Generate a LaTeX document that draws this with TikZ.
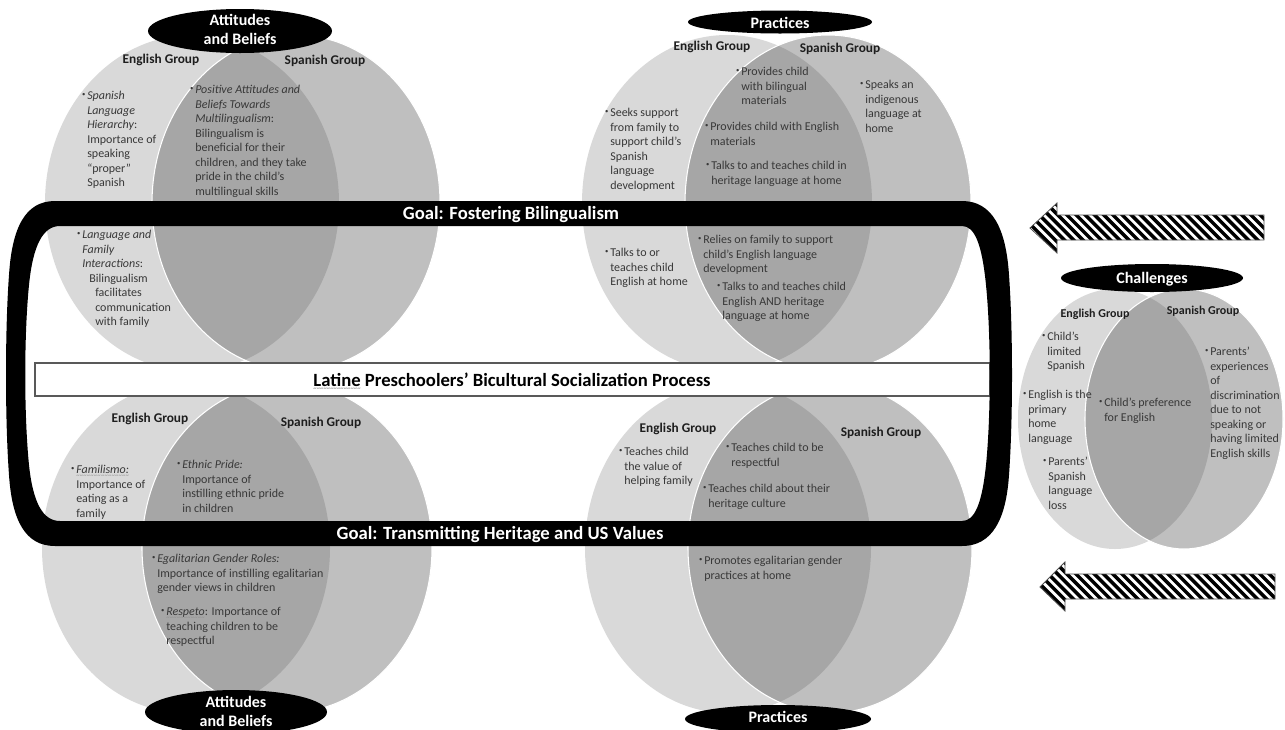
\documentclass[tikz,border=0pt]{standalone}
\usepackage{fontspec}
\setmainfont{Carlito}
\usetikzlibrary{shapes.geometric}
\definecolor{lgr}{HTML}{D9D9D9}
\definecolor{mgr}{HTML}{BFBFBF}
\definecolor{dgr}{HTML}{A6A6A6}
\definecolor{txt}{HTML}{383838}
\definecolor{hdr}{HTML}{1E1E1E}
\newsavebox{\wavebox}
\newcommand\gwave[1]{\sbox{\wavebox}{#1}\rlap{\usebox{\wavebox}}\rlap{\raisebox{-3pt}{\color{black!45}\hbox to \wd\wavebox{\xleaders\hbox{\fontsize{5}{5}\selectfont\char"007E}\hfill}}}\hskip\wd\wavebox\relax}
\newcommand{\bul}{\llap{\raisebox{0.45ex}{\fontsize{5}{5}\selectfont\textbullet}\hspace{1.4pt}}}
\newcommand{\lns}[1]{\begin{tabular}[t]{@{}l@{}}#1\end{tabular}}
\newcommand{\clns}[1]{\begin{tabular}[t]{@{}c@{}}#1\end{tabular}}
% #1 cx1, #2 cx2, #3 cy, #4 rx1, #5 rx2, #6 ry
\newcommand{\vennpair}[6]{%
  \fill[lgr] (#1,#3) ellipse [x radius=#4, y radius=#6];
  \fill[mgr] (#2,#3) ellipse [x radius=#5, y radius=#6];
  \begin{scope}
    \clip (#1,#3) ellipse [x radius=#4, y radius=#6];
    \fill[dgr] (#2,#3) ellipse [x radius=#5, y radius=#6];
  \end{scope}
  \draw[white, line width=0.8pt] (#2,#3) ellipse [x radius=#5, y radius=#6];
}
\tikzset{
  body/.style={anchor=base west, inner sep=0pt, text=txt,
    font=\fontsize{9}{10.9}\selectfont},
  grp/.style={anchor=base, inner sep=0pt, text=hdr,
    font=\bfseries\fontsize{10}{12}\selectfont},
  sgrp/.style={anchor=base, inner sep=0pt, text=hdr,
    font=\bfseries\fontsize{9}{11}\selectfont},
  lbltext/.style={anchor=base, inner sep=0pt, text=white,
    font=\bfseries\fontsize{12}{14.25}\selectfont},
  goaltext/.style={anchor=base, inner sep=0pt, text=white,
    font=\bfseries\fontsize{14}{16}\selectfont},
  titletext/.style={anchor=base, inner sep=0pt, text=black,
    font=\bfseries\fontsize{14}{16}\selectfont},
  stripe/.style={black, line width=2.6pt},
  arrowline/.style={draw=black!70, line width=0.6pt},
}
\begin{document}
\begin{tikzpicture}[x=0.75pt,y=-0.75pt]
\useasboundingbox (0,0) rectangle (1285,729);
\fill[white] (0,0) rectangle (1285,729);

% ---------- Venn diagrams ----------
\vennpair{192}{296}{203}{147}{144}{168}
\vennpair{727}{828}{203}{145}{143}{168}
\vennpair{186}{287}{548}{144}{145}{165}
\vennpair{728}{830}{548}{143}{142}{165}
\vennpair{1115}{1184}{419}{97}{99}{130}

% ---------- central band ----------
\draw[fill=white, draw=black!65, line width=0.9pt] (35,363) rectangle (990,396);

% ---------- black loop ----------
\fill[black, even odd rule]
  (55,201) -- (962,201) .. controls (992,201) and (1006,228) .. (1009,275)
  .. controls (1013,330) and (1013,420) .. (1009,475)
  .. controls (1006,520) and (992,546) .. (962,546) -- (55,546)
  .. controls (25,546) and (12,520) .. (9,475)
  .. controls (5,420) and (5,330) .. (9,275)
  .. controls (12,228) and (25,201) .. (55,201) -- cycle
  (60,226) -- (962,226) .. controls (975,226) and (982,245) .. (986,285)
  .. controls (991,335) and (991,415) .. (986,465)
  .. controls (982,503) and (975,521) .. (962,521) -- (60,521)
  .. controls (43,521) and (33,503) .. (29,465)
  .. controls (24,415) and (24,335) .. (29,285)
  .. controls (33,245) and (43,226) .. (60,226) -- cycle;

% ---------- striped arrows ----------
\begin{scope}
  \clip (1030,228) -- (1057,203) -- (1057,215) -- (1264,215) -- (1264,240) -- (1057,240) -- (1057,253) -- cycle;
  \foreach \s in {950,959.2,...,1280} \draw[stripe] (\s,190) -- ++(80,80);
\end{scope}
\draw[arrowline] (1030,228) -- (1057,203) -- (1057,215) -- (1264,215) -- (1264,240) -- (1057,240) -- (1057,253) -- cycle;
\begin{scope}
  \clip (1040,587) -- (1065,562) -- (1065,574) -- (1275,574) -- (1275,599) -- (1065,599) -- (1065,611) -- cycle;
  \foreach \s in {960,969.2,...,1290} \draw[stripe] (\s,550) -- ++(80,80);
\end{scope}
\draw[arrowline] (1040,587) -- (1065,562) -- (1065,574) -- (1275,574) -- (1275,599) -- (1065,599) -- (1065,611) -- cycle;

% ---------- black label ellipses ----------
\fill[black] (240,31) ellipse [x radius=92, y radius=22];
\fill[black] (780,22) ellipse [x radius=92, y radius=11.5];
\fill[black] (1152,278) ellipse [x radius=91, y radius=14];
\fill[black] (236,712) ellipse [x radius=91, y radius=22];
\fill[black] (778,719) ellipse [x radius=93, y radius=14];

\node[lbltext] (abTop) at (240,25) {\clns{Attitudes\\and Beliefs}};
\node[lbltext] (prTop) at (780,28) {Practices};
\node[lbltext] (chal) at (1152,283) {Challenges};
\node[lbltext] (abBot) at (236,707) {\clns{Attitudes\\and Beliefs}};
\node[lbltext] (prBot) at (778,722) {Practices};

% ---------- band texts ----------
\node[goaltext] (goal1) at (511,219) {Goal: Fostering Bilingualism};
\node[goaltext] (goal2) at (500,539) {Goal: Transmitting Heritage and US Values};
\node[titletext] (title) at (512,386) {\gwave{Latine} Preschoolers’ Bicultural Socialization Process};

% ---------- group headers ----------
\node[grp] (tlE) at (161,63.5) {English Group};
\node[grp] (tlS) at (325,64.5) {Spanish Group};
\node[grp] (trE) at (712,50.5) {English Group};
\node[grp] (trS) at (840,52.5) {Spanish Group};
\node[grp] (blE) at (150,422.5) {English Group};
\node[grp] (blS) at (321,426.5) {Spanish Group};
\node[grp] (brE) at (678,432.5) {English Group};
\node[grp] (brS) at (881,436.5) {Spanish Group};
\node[sgrp] (chE) at (1095,317) {English Group};
\node[sgrp] (chS) at (1203,314) {Spanish Group};

% ---------- top-left: attitudes and beliefs ----------
\node[body] (tl1) at (87,99.5) {\lns{\bul\textit{Spanish}\\\textit{Language}\\\textit{Hierarchy}:\\Importance of\\speaking\\“proper”\\Spanish}};
\node[body] (tl2) at (195,93.5) {\lns{\bul\textit{Positive Attitudes and}\\\textit{Beliefs Towards}\\\textit{Multilingualism}:\\Bilingualism is\\beneficial for their\\children, and they take\\pride in the child’s\\multilingual skills}};
\node[body] (tl3) at (82,238.5) {\lns{\bul\textit{Language and}\\\textit{Family}\\\textit{Interactions}:\\\hspace*{5.25pt}Bilingualism\\\hspace*{9.75pt}facilitates\\\hspace*{9.75pt}communication\\\hspace*{9.75pt}with family}};

% ---------- top-right: practices ----------
\node[body] (tr1) at (741,75.5) {\lns{\bul Provides child\\with bilingual\\materials}};
\node[body] (tr2) at (710,130.5) {\lns{\bul Provides child with English\\materials}};
\node[body] (tr3) at (711,169.5) {\lns{\bul Talks to and teaches child in\\heritage language at home}};
\node[body] (tr4) at (865,88.5) {\lns{\bul Speaks an\\indigenous\\language at\\home}};
\node[body] (tr5) at (610,116.5) {\lns{\bul Seeks support\\from family to\\support child’s\\Spanish\\language\\development}};
\node[body] (tr6) at (610,256.5) {\lns{\bul Talks to or\\teaches child\\English at home}};
\node[body] (tr7) at (703,243.5) {\lns{\bul Relies on family to support\\child’s English language\\development}};
\node[body] (tr8) at (722,290.5) {\lns{\bul Talks to and teaches child\\English AND heritage\\language at home}};

% ---------- bottom-left: attitudes and beliefs ----------
\node[body] (bl1) at (76,473.5) {\lns{\bul\gwave{\textit{Familismo:}}\\Importance of\\eating as a\\family}};
\node[body] (bl2) at (182,468.5) {\lns{\bul\textit{Ethnic Pride:}\\Importance of\\instilling ethnic pride\\in children}};
\node[body] (bl3) at (157,562.5) {\lns{\bul\textit{Egalitarian Gender Roles:}\\Importance of instilling egalitarian\\gender views in children}};
\node[body] (bl4) at (166,615.5) {\lns{\bul\gwave{\textit{Respeto}}: Importance of\\teaching children to be\\respectful}};

% ---------- bottom-right: practices ----------
\node[body] (br1) at (624,455.5) {\lns{\bul Teaches child\\the value of\\helping family}};
\node[body] (br2) at (731,451.5) {\lns{\bul Teaches child to be\\respectful}};
\node[body] (br3) at (708,492.5) {\lns{\bul Teaches child about their\\heritage culture}};
\node[body] (br4) at (704,564.5) {\lns{\bul Promotes egalitarian gender\\practices at home}};

% ---------- challenges ----------
\node[body] (ch1) at (1047,340.5) {\lns{\bul Child’s\\limited\\Spanish}};
\node[body] (ch2) at (1028,398.5) {\lns{\bul English is the\\primary\\home\\language}};
\node[body] (ch3) at (1048,465.5) {\lns{\bul Parents’\\Spanish\\language\\loss}};
\node[body] (ch4) at (1104,406.5) {\lns{\bul Child’s preference\\for English}};
\node[body] (ch5) at (1210,355.5) {\lns{\bul Parents’\\experiences\\of\\discrimination\\due to not\\speaking or\\having limited\\English skills}};
\end{tikzpicture}
\end{document}
